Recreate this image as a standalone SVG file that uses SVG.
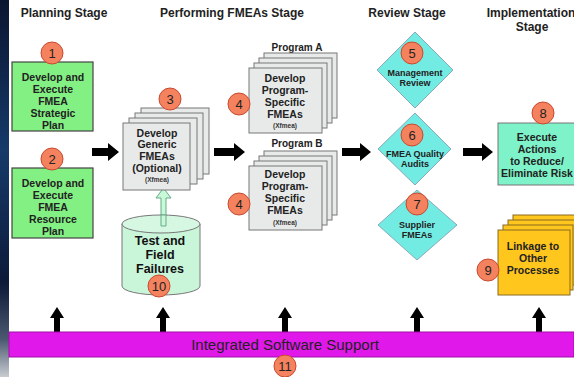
<svg xmlns="http://www.w3.org/2000/svg" width="574" height="377" viewBox="0 0 574 377">
<defs>
<linearGradient id="strip" x1="0" y1="0" x2="0" y2="1">
<stop offset="0" stop-color="#0b1530"/>
<stop offset="0.4" stop-color="#163a6a"/>
<stop offset="0.75" stop-color="#0d1a38"/>
<stop offset="0.9" stop-color="#4a5870"/>
<stop offset="1" stop-color="#c8ccd0"/>
</linearGradient>
<style>
.hdr{font-family:"Liberation Sans",Arial,sans-serif;font-weight:bold;font-size:12px;fill:#222;text-anchor:middle}
.t{font-family:"Liberation Sans",Arial,sans-serif;font-weight:bold;font-size:10.5px;fill:#222;text-anchor:middle}
.ts{font-family:"Liberation Sans",Arial,sans-serif;font-weight:bold;font-size:9px;fill:#222;text-anchor:middle}
.tp{font-family:"Liberation Sans",Arial,sans-serif;font-weight:bold;font-size:10px;fill:#222;text-anchor:middle}
.tx{font-family:"Liberation Sans",Arial,sans-serif;font-weight:bold;font-size:6.5px;fill:#333;text-anchor:middle}
.tb{font-family:"Liberation Sans",Arial,sans-serif;font-weight:bold;font-size:12.5px;fill:#111;text-anchor:middle}
.num{font-family:"Liberation Sans",Arial,sans-serif;font-size:13px;fill:#222;text-anchor:middle}
.circ{fill:#f4825e;stroke:#c84a30;stroke-width:1}
.green{fill:#82f082;stroke:#444;stroke-width:1.2}
.gray{fill:#e8eaea;stroke:#777;stroke-width:1}
.dia{fill:#72ece2;stroke:#8ab;stroke-width:1}
.gold{fill:#ffc61e;stroke:#8a6a20;stroke-width:1}
.mint{fill:#7ef2c8;stroke:#777;stroke-width:1}
.blk{fill:#000}
</style>
</defs>
<rect x="0" y="0" width="574" height="377" fill="#fff"/>
<rect x="0" y="0" width="9" height="377" fill="url(#strip)"/>

<g id="headers">
<text class="hdr" x="64" y="17">Planning Stage</text>
<text class="hdr" x="232" y="17">Performing FMEAs Stage</text>
<text class="hdr" x="407" y="17">Review Stage</text>
<text class="hdr" x="531" y="17">Implementation</text>
<text class="hdr" x="532" y="31">Stage</text>
</g>

<g id="connectors">
<polygon class="blk" points="92,148 108,148 108,143 119,152 108,161 108,156 92,156"/>
<polygon class="blk" points="214,148 234,148 234,143 245,152 234,161 234,156 214,156"/>
<polygon class="blk" points="342,148 360,148 360,143 371,152 360,161 360,156 342,156"/>
<polygon class="blk" points="463,148 482,148 482,143 493,152 482,161 482,156 463,156"/>
<polygon fill="#c8f8d8" stroke="#6a8" stroke-width="1" points="161,226 161,198 156,198 163.5,188 171,198 166,198 166,226"/>
<polygon class="blk" points="54,332 54,318 50,318 57,307 64,318 60,318 60,332"/>
<polygon class="blk" points="160,332 160,318 156,318 163,307 170,318 166,318 166,332"/>
<polygon class="blk" points="282,332 282,318 278,318 285,307 292,318 288,318 288,332"/>
<polygon class="blk" points="414,332 414,318 410,318 417,307 424,318 420,318 420,332"/>
<polygon class="blk" points="536,332 536,318 532,318 539,307 546,318 542,318 542,332"/>
</g>

<g id="node1">
<rect class="green" x="12" y="62" width="81" height="69"/>
<text class="t" x="53" y="81">Develop and</text>
<text class="t" x="53" y="93">Execute</text>
<text class="t" x="53" y="105">FMEA</text>
<text class="t" x="53" y="117">Strategic</text>
<text class="t" x="53" y="129">Plan</text>
<circle class="circ" cx="52" cy="53" r="11"/>
<text class="num" x="52" y="58">1</text>
</g>

<g id="node2">
<rect class="green" x="12" y="168" width="81" height="70"/>
<text class="t" x="53" y="187">Develop and</text>
<text class="t" x="53" y="199">Execute</text>
<text class="t" x="53" y="211">FMEA</text>
<text class="t" x="53" y="223">Resource</text>
<text class="t" x="53" y="235">Plan</text>
<circle class="circ" cx="52" cy="159" r="11"/>
<text class="num" x="52" y="164">2</text>
</g>

<g id="node3">
<rect class="gray" x="141" y="108" width="68" height="66"/>
<rect class="gray" x="135" y="113" width="68" height="66"/>
<rect class="gray" x="129" y="118" width="68" height="66"/>
<rect class="gray" x="123" y="123" width="67" height="67"/>
<text class="t" x="157" y="137">Develop</text>
<text class="t" x="157" y="148">Generic</text>
<text class="t" x="157" y="160">FMEAs</text>
<text class="t" x="157" y="172">(Optional)</text>
<text class="tx" x="157" y="182">(Xfmea)</text>
<circle class="circ" cx="170" cy="99" r="11"/>
<text class="num" x="170" y="104">3</text>
</g>

<g id="node4a">
<text class="tp" x="297" y="51">Program A</text>
<rect class="gray" x="264" y="53" width="73" height="65"/>
<rect class="gray" x="259" y="58" width="73" height="65"/>
<rect class="gray" x="254" y="63" width="73" height="65"/>
<rect class="gray" x="249" y="68" width="73" height="65"/>
<text class="t" x="285" y="82">Develop</text>
<text class="t" x="285" y="94">Program-</text>
<text class="t" x="285" y="106">Specific</text>
<text class="t" x="285" y="118">FMEAs</text>
<text class="tx" x="285" y="128">(Xfmea)</text>
<circle class="circ" cx="239" cy="104" r="11"/>
<text class="num" x="239" y="109">4</text>
</g>

<g id="node4b">
<text class="tp" x="297" y="147">Program B</text>
<rect class="gray" x="264" y="151" width="73" height="64"/>
<rect class="gray" x="259" y="156" width="73" height="64"/>
<rect class="gray" x="254" y="161" width="73" height="64"/>
<rect class="gray" x="249" y="166" width="73" height="64"/>
<text class="t" x="285" y="178">Develop</text>
<text class="t" x="285" y="190">Program-</text>
<text class="t" x="285" y="202">Specific</text>
<text class="t" x="285" y="214">FMEAs</text>
<text class="tx" x="285" y="225">(Xfmea)</text>
<circle class="circ" cx="239" cy="204" r="11"/>
<text class="num" x="239" y="209">4</text>
</g>

<g id="node5">
<polygon class="dia" points="415,32 453,70 415,108 377,70"/>
<text class="ts" x="415" y="76">Management</text>
<text class="ts" x="415" y="86">Review</text>
<circle class="circ" cx="412" cy="53" r="11"/>
<text class="num" x="412" y="58">5</text>
</g>

<g id="node6">
<polygon class="dia" points="415,113 451,149 415,185 378,149"/>
<text class="ts" x="415" y="157">FMEA Quality</text>
<text class="ts" x="415" y="167">Audits</text>
<circle class="circ" cx="412" cy="135" r="11"/>
<text class="num" x="412" y="140">6</text>
</g>

<g id="node7">
<polygon class="dia" points="417,190 457,225 417,260 378,225"/>
<text class="ts" x="417" y="228">Supplier</text>
<text class="ts" x="417" y="238">FMEAs</text>
<circle class="circ" cx="417" cy="204" r="11"/>
<text class="num" x="417" y="209">7</text>
</g>

<g id="node8">
<rect class="mint" x="498" y="123" width="80" height="62"/>
<text class="t" x="537" y="141">Execute</text>
<text class="t" x="537" y="153">Actions</text>
<text class="t" x="537" y="165">to Reduce/</text>
<text class="t" x="537" y="177">Eliminate Risk</text>
<circle class="circ" cx="543" cy="113" r="11"/>
<text class="num" x="543" y="118">8</text>
</g>

<g id="node9">
<rect class="gold" x="513" y="215" width="70" height="65"/>
<rect class="gold" x="508" y="220" width="70" height="65"/>
<rect class="gold" x="503" y="225" width="70" height="65"/>
<rect class="gold" x="498" y="230" width="72" height="65"/>
<text class="t" x="533" y="250">Linkage to</text>
<text class="t" x="533" y="262">Other</text>
<text class="t" x="533" y="274">Processes</text>
<circle class="circ" cx="488" cy="270" r="11"/>
<text class="num" x="488" y="275">9</text>
</g>

<g id="node10">
<path d="M122,224 L122,286 A39,9 0 0 0 200,286 L200,224" fill="#c9f5d9" stroke="#777" stroke-width="1"/>
<ellipse cx="161" cy="224" rx="39" ry="9" fill="#d6f8e2" stroke="#777" stroke-width="1"/>
<polygon fill="#c8f8d8" stroke="#6a8" stroke-width="1" points="161,226 161,215 166,215 166,226"/>
<text class="tb" x="160" y="245">Test and</text>
<text class="tb" x="160" y="259">Field</text>
<text class="tb" x="160" y="273">Failures</text>
<circle class="circ" cx="159" cy="286" r="11"/>
<text class="num" x="159" y="291">10</text>
</g>

<g id="node11">
<rect x="9" y="332" width="565" height="25" fill="#e018ea" stroke="#a010a8" stroke-width="1"/>
<text x="285" y="350" font-family="Liberation Sans,Arial,sans-serif" font-size="15" fill="#222" text-anchor="middle">Integrated Software Support</text>
<circle class="circ" cx="285" cy="366" r="11"/>
<text class="num" x="285" y="371">11</text>
</g>
</svg>
